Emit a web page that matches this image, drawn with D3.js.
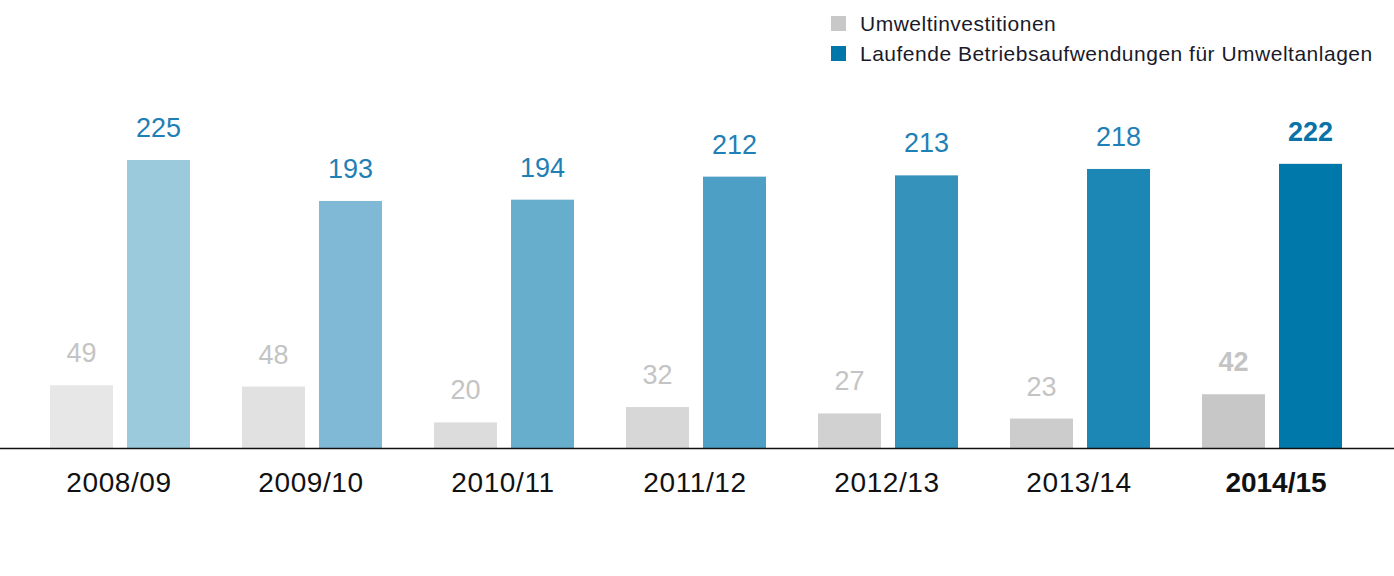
<!DOCTYPE html>
<html>
<head>
<meta charset="utf-8">
<script src="https://cdn.jsdelivr.net/npm/d3@7/dist/d3.min.js"></script>
<style>
  html, body { margin: 0; padding: 0; background: #fff; }
  svg { display: block; font-family: "Liberation Sans", Arial, Helvetica, sans-serif; }
</style>
</head>
<body>
<svg id="chart" width="1394" height="576"></svg>
<script>
const categories = ["2008/09", "2009/10", "2010/11", "2011/12", "2012/13", "2013/14", "2014/15"];
const seriesNames = ["Umweltinvestitionen", "Laufende Betriebsaufwendungen für Umweltanlagen"];
const investitionen = [49, 48, 20, 32, 27, 23, 42];
const betriebsaufwendungen = [225, 193, 194, 212, 213, 218, 222];
const greyColors = ["#e7e7e7", "#e1e1e1", "#dcdcdc", "#d7d7d7", "#d1d1d1", "#cccccc", "#c6c7c6"];
const blueColors = ["#9ccadd", "#80b9d5", "#67aecd", "#4d9fc5", "#3592bb", "#1c86b4", "#0078a9"];
const legendColors = ["#c8c8c8", "#0077a8"];

const svg = d3.select("#chart");
const baseY = 448;

const x0 = d3.scaleBand().domain(categories).range([24, 1368])
  .paddingInner(52 / 192).paddingOuter(26 / 192);
const x1 = d3.scaleBand().domain([0, 1]).range([0, x0.bandwidth()])
  .paddingInner(14 / 77).paddingOuter(0);
const y = d3.scaleLinear().domain([0, 225]).range([baseY, 160]);

const rows = categories.map((c, i) => ({
  cat: c, i,
  vals: [investitionen[i], betriebsaufwendungen[i]],
  last: i === categories.length - 1
}));

const g = svg.append("g");
const groups = g.selectAll("g.grp").data(rows).join("g")
  .attr("transform", d => `translate(${x0(d.cat)},0)`);

groups.selectAll("rect").data(d => d.vals.map((v, k) => ({ v, k, i: d.i })))
  .join("rect")
  .attr("x", d => x1(d.k))
  .attr("width", x1.bandwidth())
  .attr("y", d => y(d.v))
  .attr("height", d => baseY - y(d.v))
  .attr("fill", d => d.k === 0 ? greyColors[d.i] : blueColors[d.i]);

groups.selectAll("text.val").data(d => d.vals.map((v, k) => ({ v, k, last: d.last })))
  .join("text")
  .attr("class", "val")
  .attr("x", d => x1(d.k) + x1.bandwidth() / 2)
  .attr("y", d => y(d.v) - 23)
  .attr("text-anchor", "middle")
  .attr("font-size", 27)
  .attr("font-weight", d => d.last ? "bold" : "normal")
  .attr("fill", d => d.k === 0 ? "#c4c4c4" : (d.last ? "#0a72a6" : "#1f80b6"))
  .text(d => d.v);

// axis
const axis = d3.axisBottom(x0).tickSize(0).tickPadding(0);
const ax = svg.append("g").attr("transform", `translate(0,${baseY})`).call(axis);
ax.select(".domain").remove();
svg.append("line").attr("x1", 0).attr("x2", 1394).attr("y1", baseY + 0.5).attr("y2", baseY + 0.5)
  .attr("stroke", "#111").attr("stroke-width", 1.5);
ax.selectAll(".tick text")
  .attr("dy", 0).attr("y", 44)
  .attr("x", (d, i) => i === categories.length - 1 ? 4 : -1)
  .attr("font-size", 28)
  .attr("letter-spacing", (d, i) => i === categories.length - 1 ? 0 : 0.6)
  .attr("font-family", "Liberation Sans, Arial, sans-serif")
  .attr("fill", "#111")
  .attr("font-weight", (d, i) => i === categories.length - 1 ? "bold" : "normal");

// legend
const leg = svg.append("g");
seriesNames.forEach((n, k) => {
  leg.append("rect").attr("x", 831).attr("y", 16 + k * 30).attr("width", 15).attr("height", 15)
    .attr("fill", legendColors[k]);
  leg.append("text").attr("x", 860).attr("y", 31 + k * 30)
    .attr("font-size", 21).attr("letter-spacing", 0.5).attr("fill", "#1a1a2a").text(n);
});
</script>
</body>
</html>
